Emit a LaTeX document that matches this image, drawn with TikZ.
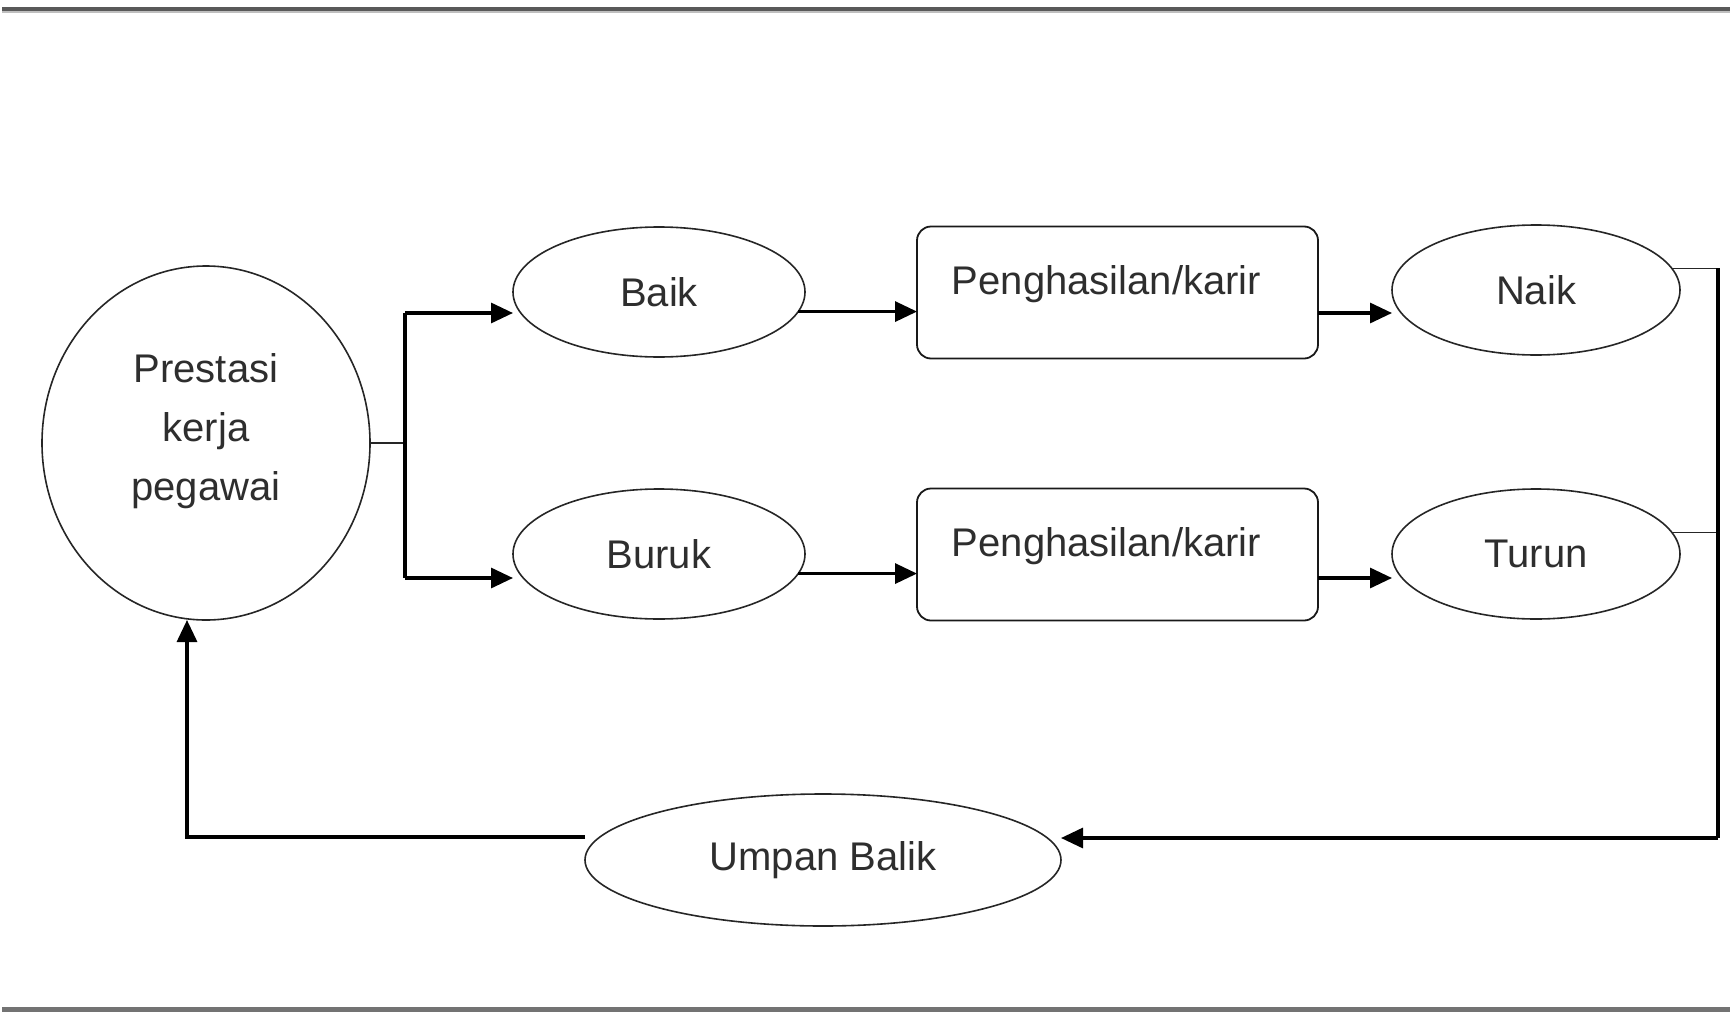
\documentclass[tikz,border=0pt]{standalone}
\usepackage{fontspec}
\setmainfont{Liberation Sans}
\usetikzlibrary{arrows.meta,shapes.geometric}
\begin{document}
\begin{tikzpicture}[x=0.5pt,y=-0.5pt,
  every node/.style={inner sep=0pt,outer sep=0pt,text=black!82,
    font=\fontsize{20}{29.5}\selectfont},
  oval/.style={draw=black!85,line width=0.8pt,ellipse,fill=white},
  rbox/.style={draw=black!90,line width=0.9pt,rounded corners=7pt,
    minimum width=200.5pt,minimum height=66pt,text height=16pt,text depth=13.7pt},
  thick line/.style={line width=1.6pt,black},
  thin line/.style={line width=0.8pt,black!85},
  arr/.style={thick line,-{Triangle[length=11pt,width=10pt]}}]
\useasboundingbox (0,0) rectangle (1730,1012);
% frame lines
\fill[black!65] (2,7) rectangle (1730,11);
\fill[black!25] (2,11) rectangle (1730,13);
\fill[black!55] (2,1007) rectangle (1730,1012);
% nodes
\node[oval,minimum width=164pt,minimum height=177pt,
  label={[align=center,yshift=6pt]center:Prestasi\\kerja\\pegawai}] (pk) at (206,443) {};
\node[oval,minimum width=146pt,minimum height=65pt] (baik) at (659,292) {Baik};
\node[oval,minimum width=146pt,minimum height=65pt] (buruk) at (659,554) {Buruk};
\node[rbox] (ph1) at (1117.5,292.5) {Penghasilan/karir\kern11pt};
\node[rbox] (ph2) at (1117.5,554.5) {Penghasilan/karir\kern11pt};
\node[oval,minimum width=144pt,minimum height=65pt] (naik) at (1536,290) {Naik};
\node[oval,minimum width=144pt,minimum height=65pt] (turun) at (1536,554) {Turun};
\node[oval,minimum width=238pt,minimum height=66pt] (ub) at (823,860) {Umpan Balik};
% junction coordinates
\coordinate (jl) at (405,443);
\coordinate (jt) at (405,313);
\coordinate (jb) at (405,578);
\coordinate (jr) at (1718,268);
\coordinate (jrb) at (1718,838);
\coordinate (fbl) at (187,837);
% connectors
\draw[thin line] (pk.east) -- (jl);
\draw[thick line] (jt) -- (jb);
\draw[arr] (jt) -- (jt -| baik.west);
\draw[arr] (jb) -- (jb -| buruk.west);
\draw[arr] (baik.-8.6) -- (baik.-8.6 -| ph1.west);
\draw[arr] (buruk.-8.6) -- (buruk.-8.6 -| ph2.west);
\draw[arr] (ph1.east |- jt) -- (jt -| naik.west);
\draw[arr] (ph2.east |- jb) -- (jb -| turun.west);
\draw[thin line] (naik.9.2) -- (naik.9.2 -| jr);
\draw[thin line] (turun.9.2) -- (turun.9.2 -| jr);
\draw[thick line] (jr) -- (jrb);
\draw[arr] (jrb) -- (jrb -| ub.east);
\draw[arr] (ub.west |- fbl) -- (fbl) -- (fbl |- pk.south);
\end{tikzpicture}
\end{document}
